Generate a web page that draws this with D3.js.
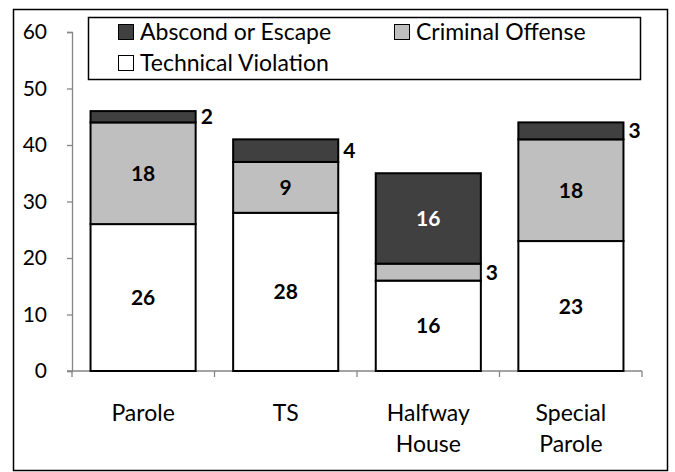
<!DOCTYPE html>
<html>
<head>
<meta charset="utf-8">
<script src="https://cdn.jsdelivr.net/npm/d3@7"></script>
<style>
  body { margin: 0; background: #fff; }
  svg text { font-family: Lato, "Open Sans", sans-serif; }
</style>
</head>
<body>
<div id="chart"></div>
<script>
// Data
const categories = [["Parole"], ["TS"], ["Halfway", "House"], ["Special", "Parole"]];
const seriesNames = ["Technical Violation", "Criminal Offense", "Abscond or Escape"];
const technical = [26, 28, 16, 23];
const criminal = [18, 9, 3, 18];
const abscond = [2, 4, 16, 3];
const yTicks = [0, 10, 20, 30, 40, 50, 60];

const colors = { "Technical Violation": "#ffffff", "Criminal Offense": "#bfbfbf", "Abscond or Escape": "#404040" };

const width = 675, height = 472;
const margin = { left: 72, right: 33, top: 32, bottom: 101 };
const fontSize = 21;
const labelSize = 23;

const rows = categories.map((c, i) => ({
    key: c.join(" "),
    label: c,
    "Technical Violation": technical[i],
    "Criminal Offense": criminal[i],
    "Abscond or Escape": abscond[i]
}));

const svg = d3.select("#chart").append("svg")
    .attr("width", width)
    .attr("height", height);

// outer frame
svg.append("rect")
    .attr("x", 13.5).attr("y", 9.5)
    .attr("width", 654).attr("height", 461)
    .attr("fill", "none").attr("stroke", "#000").attr("stroke-width", 1.5);

const x = d3.scaleBand()
    .domain(rows.map(d => d.key))
    .range([margin.left, width - margin.right])
    .paddingInner(0.263)
    .paddingOuter(0.13);

const y = d3.scaleLinear()
    .domain([0, 60])
    .range([height - margin.bottom, margin.top]);

// y axis
const yAxis = svg.append("g")
    .attr("transform", `translate(${margin.left},0)`)
    .call(d3.axisLeft(y).tickValues(yTicks).tickSize(5).tickPadding(20));
yAxis.attr("font-size", null).attr("font-family", null);
yAxis.select(".domain").attr("stroke", "#868686").attr("stroke-width", 1.3);
yAxis.selectAll(".tick line").attr("stroke", "#868686").attr("stroke-width", 1.3);
yAxis.selectAll(".tick text").style("font-size", fontSize + "px").attr("fill", "#000");

// x axis: ticks between categories
const xAxisG = svg.append("g").attr("transform", `translate(0,${y(0)})`);
xAxisG.append("line")
    .attr("x1", margin.left - 5).attr("x2", width - margin.right)
    .attr("stroke", "#868686").attr("stroke-width", 1.3);
const boundaries = d3.range(rows.length + 1).map(i => margin.left + i * (width - margin.right - margin.left) / rows.length);
xAxisG.selectAll(".sep").data(boundaries).enter().append("line")
    .attr("x1", d => d).attr("x2", d => d)
    .attr("y1", 0).attr("y2", 6)
    .attr("stroke", "#868686").attr("stroke-width", 1.3);

const catLabels = svg.append("g").selectAll("text").data(rows).enter().append("text")
    .attr("x", d => x(d.key) + x.bandwidth() / 2)
    .attr("y", 421)
    .attr("text-anchor", "middle")
    .style("font-size", labelSize + "px")
    .attr("fill", "#000");
catLabels.each(function(d) {
    d3.select(this).selectAll("tspan").data(d.label).enter().append("tspan")
        .attr("x", x(d.key) + x.bandwidth() / 2)
        .attr("dy", (t, i) => i === 0 ? 0 : 31)
        .text(t => t);
});

// stacked bars
const stack = d3.stack().keys(seriesNames)(rows);

const layers = svg.append("g").selectAll("g").data(stack).enter().append("g")
    .attr("fill", d => colors[d.key]);

layers.selectAll("rect").data(d => d).enter().append("rect")
    .attr("x", d => x(d.data.key))
    .attr("y", d => y(d[1]))
    .attr("width", x.bandwidth())
    .attr("height", d => y(d[0]) - y(d[1]))
    .attr("stroke", "#000")
    .attr("stroke-width", 2);

// value labels
stack.forEach(layer => {
    layer.forEach(d => {
        const v = d[1] - d[0];
        const small = v < 5;
        const cx = small ? x(d.data.key) + x.bandwidth() + 5 : x(d.data.key) + x.bandwidth() / 2;
        const cy = (y(d[0]) + y(d[1])) / 2;
        svg.append("text")
            .attr("x", cx)
            .attr("y", cy)
            .attr("dy", "0.36em")
            .attr("text-anchor", small ? "start" : "middle")
            .style("font-size", fontSize + "px")
            .attr("font-weight", "bold")
            .attr("fill", (!small && layer.key === "Abscond or Escape") ? "#fff" : "#000")
            .text(v);
    });
});

// legend
const legend = svg.append("g");
legend.append("rect")
    .attr("x", 88.5).attr("y", 17.5)
    .attr("width", 552).attr("height", 62)
    .attr("fill", "#fff").attr("stroke", "#000").attr("stroke-width", 1.5);

const legendItems = [
    { name: "Abscond or Escape", x: 118, y: 32 },
    { name: "Criminal Offense", x: 394, y: 32 },
    { name: "Technical Violation", x: 118, y: 63 }
];
legendItems.forEach(it => {
    legend.append("rect")
        .attr("x", it.x + 0.5).attr("y", it.y - 7.5)
        .attr("width", 15).attr("height", 15)
        .attr("fill", colors[it.name]).attr("stroke", "#000").attr("stroke-width", 1);
    legend.append("text")
        .attr("x", it.x + 22).attr("y", it.y)
        .attr("dy", "0.36em")
        .style("font-size", labelSize + "px")
        .attr("fill", "#000")
        .text(it.name);
});
</script>
</body>
</html>
